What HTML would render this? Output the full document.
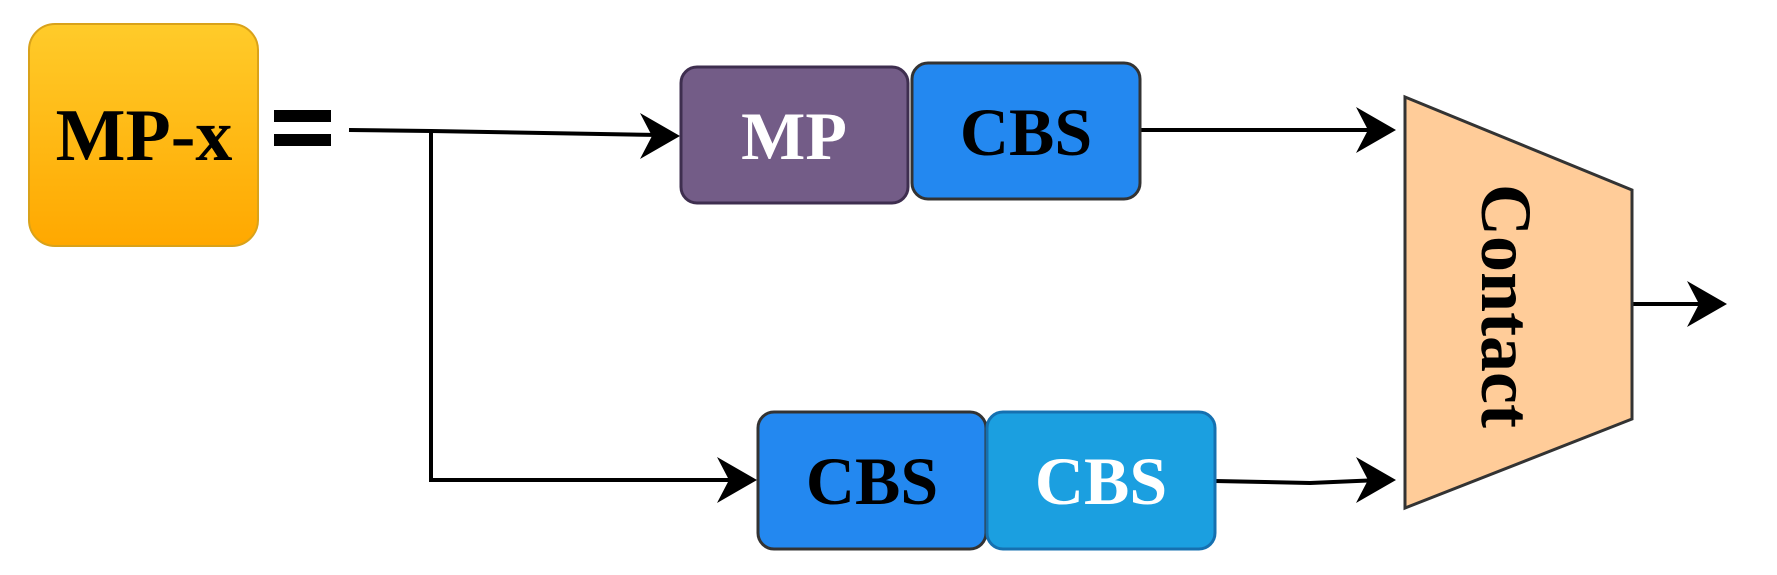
<!DOCTYPE html>
<html><head><style>
html,body{margin:0;padding:0;background:#fff;}
svg{display:block;}
</style></head><body>
<svg width="1777" height="575" viewBox="0 0 1777 575" xmlns="http://www.w3.org/2000/svg">
<defs>
<linearGradient id="g" x1="0" y1="0" x2="0" y2="1">
<stop offset="0" stop-color="#FFCB2A"/><stop offset="1" stop-color="#FFA800"/>
</linearGradient>
</defs>
<rect x="29" y="24" width="229" height="222" rx="26" fill="url(#g)" stroke="#D9A21A" stroke-width="2"/>
<text x="144" y="160" font-size="74" font-weight="bold" font-family="Liberation Serif, Times New Roman, serif" text-anchor="middle" fill="#000">MP-x</text>
<rect x="274" y="110" width="57" height="12" fill="#000"/>
<rect x="274" y="134" width="57" height="12" fill="#000"/>
<g stroke="#000" stroke-width="4" fill="none">
<polyline points="349,130 431,131 660,135"/>
<polyline points="431,131 431,480 740,480"/>
<line x1="1141" y1="130" x2="1380" y2="130"/>
<polyline points="1215,481 1310,483 1380,480"/>
<line x1="1632" y1="304" x2="1712" y2="304"/>
</g>
<g fill="#000">
<path d="M680,136 L640,113 L652,136 L640,159 Z"/>
<path d="M757,480 L717,457 L729,480 L717,503 Z"/>
<path d="M1396,130 L1356,107 L1368,130 L1356,153 Z"/>
<path d="M1396,480 L1356,457 L1368,480 L1356,503 Z"/>
<path d="M1727,304 L1687,281 L1699,304 L1687,327 Z"/>
</g>
<g font-weight="bold" font-family="Liberation Serif, Times New Roman, serif" text-anchor="middle">
<rect x="681" y="67" width="227" height="136" rx="16" fill="#735C87" stroke="#3E2E4F" stroke-width="3"/>
<text x="794" y="159" font-size="68" fill="#fff">MP</text>
<rect x="912" y="63" width="228" height="136" rx="16" fill="#2388F0" stroke="#333" stroke-width="3"/>
<text x="1026" y="155" font-size="68" fill="#000">CBS</text>
<rect x="758" y="412" width="228" height="137" rx="16" fill="#2388F0" stroke="#333" stroke-width="3"/>
<text x="872" y="504" font-size="68" fill="#000">CBS</text>
<rect x="987" y="412" width="228" height="137" rx="16" fill="#1B9FE0" stroke="#1570B0" stroke-width="3"/>
<text x="1101" y="504" font-size="68" fill="#fff">CBS</text>
<polygon points="1405,97 1632,190 1632,419 1405,508" fill="#FFCC99" stroke="#333" stroke-width="3"/>
<text x="0" y="0" font-size="72" fill="#000" transform="translate(1482,306) rotate(90)">Contact</text>
</g>
</svg>
</body></html>
